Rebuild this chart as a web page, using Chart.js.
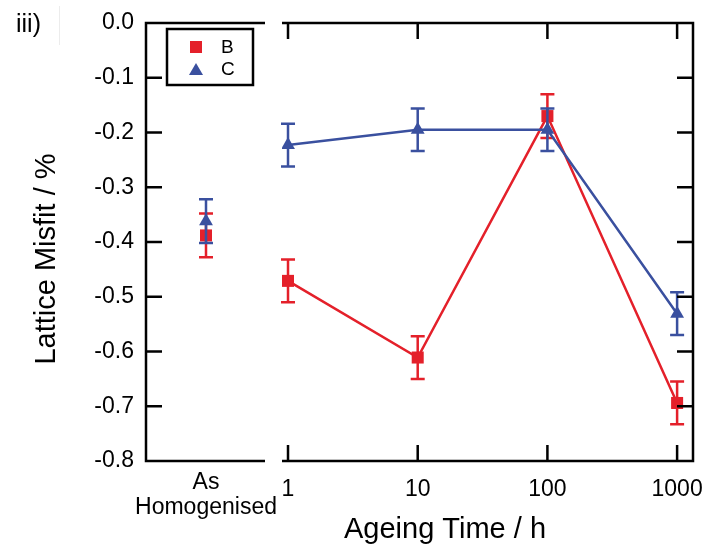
<!DOCTYPE html>
<html>
<head>
<meta charset="utf-8">
<script src="https://cdn.jsdelivr.net/npm/chart.js@4/dist/chart.umd.min.js"></script>
<style>
  html, body { margin: 0; padding: 0; background: #fff; }
  #wrap { width: 705px; height: 547px; }
</style>
</head>
<body>
<div id="wrap"><canvas id="misfitChart" width="705" height="547"></canvas></div>
<script>
// data
var ageTimes = [1, 10, 100, 1000];
var ageTickLabels = ['1', '10', '100', '1000'];
var homLabel = ['As', 'Homogenised'];
var seriesNames = ['B', 'C'];

var homB = -0.388, homBErr = 0.04;
var homC = -0.362, homCErr = 0.04;
var agedB = [-0.471, -0.611, -0.170, -0.694];
var agedBErr = [0.039, 0.039, 0.04, 0.039];
var agedC = [-0.223, -0.195, -0.195, -0.531];
var agedCErr = [0.039, 0.039, 0.039, 0.039];

var yTicksMin = -0.8, yTicksMax = 0.0, yStep = 0.1;

var RED = '#e4202a';
var BLUE = '#3a509f';
var FONT = "'Liberation Sans', Arial, sans-serif";

Chart.defaults.font.family = FONT;
Chart.defaults.color = '#000';

function zipPoints(xs, ys) {
    return xs.map(function (x, i) { return {x: x, y: ys[i]}; });
}

// chart.js guesses label overflow from a provisional width, which goes wrong for stacked x axes
function noPadding(s) {
    s.paddingLeft = 0; s.paddingRight = 0; s.paddingTop = 0; s.paddingBottom = 0;
}

// error bars, drawn just before each dataset so layering follows dataset order
var errorBarPlugin = {
    id: 'errorBars',
    beforeDatasetDraw: function (chart, args) {
        var ds = chart.data.datasets[args.index];
        if (!ds.errors) return;
        var ctx = chart.ctx;
        var yScale = chart.scales.y;
        ctx.save();
        ctx.strokeStyle = ds.borderColor;
        ctx.lineWidth = 2.5;
        args.meta.data.forEach(function (pt, i) {
            var v = ds.data[i].y, e = ds.errors[i];
            var top = yScale.getPixelForValue(v + e);
            var bot = yScale.getPixelForValue(v - e);
            ctx.beginPath();
            ctx.moveTo(pt.x, top); ctx.lineTo(pt.x, bot);
            ctx.moveTo(pt.x - 7, top); ctx.lineTo(pt.x + 7, top);
            ctx.moveTo(pt.x - 7, bot); ctx.lineTo(pt.x + 7, bot);
            ctx.stroke();
        });
        ctx.restore();
    }
};

// broken frame with inward ticks, axis titles, legend box
var framePlugin = {
    id: 'frame',
    afterDraw: function (chart) {
        var ctx = chart.ctx;
        var area = chart.chartArea;
        var y = chart.scales.y, xh = chart.scales.xh, xa = chart.scales.xa;
        var gapLeft = xh.right - 17, gapRight = xa.left;
        var tick = 16;
        ctx.save();
        ctx.strokeStyle = '#000';
        ctx.lineWidth = 2.5;
        ctx.lineCap = 'butt';
        ctx.beginPath();
        // left axis
        ctx.moveTo(area.left, area.top); ctx.lineTo(area.left, area.bottom);
        // right axis
        ctx.moveTo(area.right, area.top - 1.25); ctx.lineTo(area.right, area.bottom + 1.25);
        // top and bottom, broken
        ctx.moveTo(area.left - 1.25, area.top); ctx.lineTo(gapLeft, area.top);
        ctx.moveTo(gapRight, area.top); ctx.lineTo(area.right, area.top);
        ctx.moveTo(area.left - 1.25, area.bottom); ctx.lineTo(gapLeft, area.bottom);
        ctx.moveTo(gapRight, area.bottom); ctx.lineTo(area.right, area.bottom);
        // y ticks both sides
        for (var v = yTicksMin; v <= yTicksMax + 1e-9; v += yStep) {
            var py = y.getPixelForValue(v);
            ctx.moveTo(area.left, py); ctx.lineTo(area.left + tick, py);
            ctx.moveTo(area.right, py); ctx.lineTo(area.right - tick, py);
        }
        // x ticks top and bottom
        ageTimes.forEach(function (t) {
            var px = xa.getPixelForValue(t);
            ctx.moveTo(px, area.top); ctx.lineTo(px, area.top + tick);
            ctx.moveTo(px, area.bottom); ctx.lineTo(px, area.bottom - tick);
        });
        ctx.stroke();

        // axis titles
        ctx.fillStyle = '#000';
        ctx.font = '29px ' + FONT;
        ctx.textAlign = 'center';
        ctx.textBaseline = 'alphabetic';
        ctx.fillText('Ageing Time / h', 445, 538);
        ctx.save();
        ctx.translate(55, 259);
        ctx.rotate(-Math.PI / 2);
        ctx.fillText('Lattice Misfit / %', 0, 0);
        ctx.restore();

        // panel label
        ctx.textAlign = 'left';
        ctx.font = '25px ' + FONT;
        ctx.fillText('iii)', 16, 32);
        ctx.strokeStyle = '#ececec';
        ctx.lineWidth = 1;
        ctx.beginPath();
        ctx.moveTo(59.5, 6); ctx.lineTo(59.5, 45);
        ctx.stroke();

        // legend
        var lx = 167, ly = 29, lw = 86, lh = 56;
        ctx.fillStyle = '#fff';
        ctx.fillRect(lx, ly, lw, lh);
        ctx.strokeStyle = '#000';
        ctx.lineWidth = 2.5;
        ctx.strokeRect(lx, ly, lw, lh);
        ctx.fillStyle = RED;
        ctx.fillRect(190, 41, 12, 12);
        ctx.fillStyle = BLUE;
        ctx.beginPath();
        ctx.moveTo(196, 63); ctx.lineTo(203, 75); ctx.lineTo(189, 75); ctx.closePath();
        ctx.fill();
        ctx.fillStyle = '#000';
        ctx.font = '19px ' + FONT;
        ctx.textBaseline = 'middle';
        ctx.fillText(seriesNames[0], 221, 48);
        ctx.fillText(seriesNames[1], 221, 70);
        ctx.restore();
    }
};

var ctx = document.getElementById('misfitChart').getContext('2d');
var misfitChart = new Chart(ctx, {
    type: 'line',
    data: {
        datasets: [
            {
                label: seriesNames[1], xAxisID: 'xa', order: 0,
                data: zipPoints(ageTimes, agedC), errors: agedCErr,
                borderColor: BLUE, backgroundColor: BLUE, borderWidth: 2.5,
                pointStyle: 'triangle', pointRadius: 8, pointBorderWidth: 0,
                pointBackgroundColor: BLUE
            },
            {
                label: seriesNames[1] + ' hom', xAxisID: 'xh', order: 0, showLine: false,
                data: [{x: 1, y: homC}], errors: [homCErr],
                borderColor: BLUE, backgroundColor: BLUE,
                pointStyle: 'triangle', pointRadius: 8, pointBorderWidth: 0,
                pointBackgroundColor: BLUE
            },
            {
                label: seriesNames[0], xAxisID: 'xa', order: 1,
                data: zipPoints(ageTimes, agedB), errors: agedBErr,
                borderColor: RED, backgroundColor: RED, borderWidth: 2.5,
                pointStyle: 'rect', pointRadius: 8.5, pointBorderWidth: 0,
                pointBackgroundColor: RED
            },
            {
                label: seriesNames[0] + ' hom', xAxisID: 'xh', order: 1, showLine: false,
                data: [{x: 1, y: homB}], errors: [homBErr],
                borderColor: RED, backgroundColor: RED,
                pointStyle: 'rect', pointRadius: 8.5, pointBorderWidth: 0,
                pointBackgroundColor: RED
            }
        ]
    },
    options: {
        responsive: false,
        animation: false,
        layout: { padding: { top: 23, right: 12, bottom: 0, left: 0 } },
        plugins: { legend: { display: false }, tooltip: { enabled: false } },
        scales: {
            y: {
                min: yTicksMin, max: yTicksMax,
                grid: { display: false, drawTicks: false, tickLength: 0 }, border: { display: false },
                ticks: {
                    stepSize: yStep, padding: 12, font: { size: 23 },
                    callback: function (v) { return Number(v).toFixed(1); }
                },
                afterFit: function (s) { s.width = 146; noPadding(s); }
            },
            xh: {
                type: 'linear', position: 'bottom', stack: 'x', stackWeight: 136,
                min: 0, max: 136 / 60,
                grid: { display: false, drawTicks: false, tickLength: 0 }, border: { display: false },
                afterBuildTicks: function (s) { s.ticks = [{value: 1}]; },
                ticks: {
                    padding: 9, font: { size: 23, lineHeight: 1.1 }, maxRotation: 0, autoSkip: false,
                    callback: function () { return homLabel; }
                },
                afterFit: function (s) { s.height = 86; noPadding(s); }
            },
            xa: {
                type: 'logarithmic', position: 'bottom', stack: 'x', stackWeight: 411,
                min: 0.8988, max: 1326,
                grid: { display: false, drawTicks: false, tickLength: 0 }, border: { display: false },
                afterBuildTicks: function (s) {
                    s.ticks = ageTimes.map(function (t) { return {value: t}; });
                },
                ticks: {
                    padding: 15, font: { size: 23 }, maxRotation: 0, autoSkip: false,
                    callback: function (v) { return ageTickLabels[ageTimes.indexOf(v)]; }
                },
                afterFit: function (s) { s.height = 86; noPadding(s); }
            }
        }
    },
    plugins: [errorBarPlugin, framePlugin]
});
</script>
</body>
</html>
